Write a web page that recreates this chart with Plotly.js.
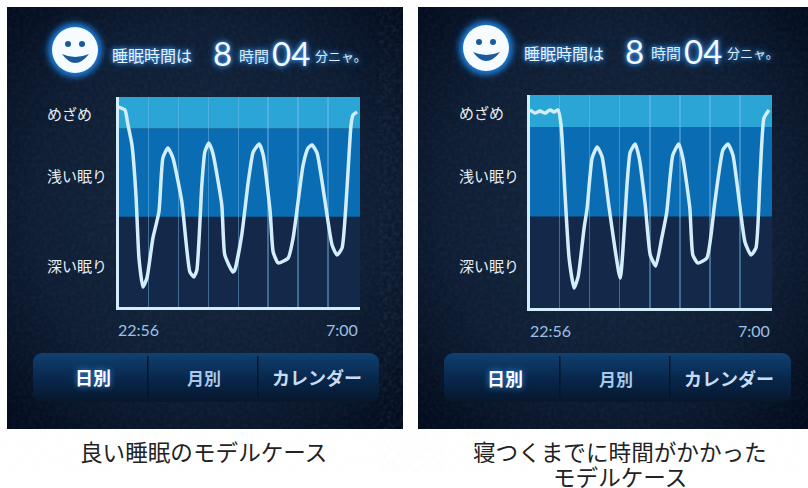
<!DOCTYPE html>
<html><head><meta charset="utf-8">
<script src="https://cdn.plot.ly/plotly-3.0.1.min.js"></script>
<style>html,body{margin:0;padding:0;background:#fff}#c{width:808px;height:488px}</style>
</head><body><div id="c"></div>
<script>
// minutes after bedtime (22:56) and sleep level (0-100)
var leftMinutes=[0,13,19,27,35,41,49,57,69,81,89,99,109,127,143,151,157,167,173,181,189,207,213,229,233,247,260,270,282,290,304,310,320,340,350,370,380,388,398,428,438,448,458,466,470,478];
var leftLevel=[95.2,93.8,86.7,77.1,53.3,23.3,9.5,13.8,32.9,45.2,71,75.7,71,50,16.7,14.3,17.6,58.1,73.8,78.1,73.3,48.6,24.8,16.7,17.6,34.3,59.5,73.8,77.6,72.4,45.2,26.2,21,23.3,32.9,67.6,75.7,77.1,73.3,29.5,24.8,28.1,56.7,86.7,91.4,92.9];
var rightMinutes=[1,11,21,31,41,49,57,63,71,79,89,97,109,115,125,135,145,159,181,195,201,211,219,231,241,252,264,274,286,298,306,320,326,336,354,370,386,396,406,430,442,452,460,468,478];
var rightLevel=[93,91.5,92.5,91.5,93,92,93,85.9,53.1,23.5,9.4,14.6,37.6,46.9,70.4,75.6,70.9,46.9,14.1,59.2,73.2,77,70.4,48.4,24.9,19.7,32.9,45.1,71.8,77,70.4,46.9,24.9,21.1,23.5,49.8,74.2,77,71.8,31,24.9,28.2,61,89.2,93];
var hourTicks=[60,120,180,240,300,360,420];
var bandEdges=[0,43,85,100];
var bandColors=['#14294a','#0a6cb2','#2aa5d6'];
var levelLabels=['めざめ','浅い眠り','深い眠り'];
var timeLabels=['22:56','7:00'];
var tabLabels=['日別','月別','カレンダー'];
var headerTexts=['睡眠時間は','8','時間','04','分ニャ。'];
var captionLeft=['良い睡眠のモデルケース'];
var captionRight=['寝つくまでに時間がかかった','モデルケース'];

var W=808,H=488;
var fx=function(x){return x/W;}, fy=function(y){return 1-y/H;};
var JP='"Noto Sans CJK JP","Noto Sans",sans-serif';
var glow='0 0 4px #4aa8ff, 0 0 8px #2a80e0';

function panelSvg(x,w,sx,tabX,barX,barW,dy){
  var cx=sx, cy=50+dy;
  return '<g><rect x="'+x+'" y="7" width="'+w+'" height="422" fill="url(#v)"/><rect x="'+x+'" y="7" width="'+w+'" height="422" filter="url(#n)" opacity="0.05"/></g>'
  +'<rect x="'+barX+'" y="353" width="'+barW+'" height="49" rx="9" fill="url(#b)"/>'
  +'<rect x="'+tabX[0]+'" y="356" width="1.5" height="42" fill="#05162c"/><rect x="'+tabX[1]+'" y="356" width="1.5" height="42" fill="#05162c"/>'
  +'<circle cx="'+cx+'" cy="'+cy+'" r="27" fill="#1c7fe0" filter="url(#g)"/>'
  +'<circle cx="'+cx+'" cy="'+cy+'" r="23" fill="#f6fbff"/>'
  +'<circle cx="'+(cx-7)+'" cy="'+(cy-6)+'" r="3" fill="#1a5a9c"/><circle cx="'+(cx+7)+'" cy="'+(cy-6)+'" r="3" fill="#1a5a9c"/>'
  +'<path d="M'+(cx-13)+' '+(cy+4)+' Q'+cx+' '+(cy+10)+' '+(cx+14)+' '+(cy+4)+' Q'+cx+' '+(cy+22)+' '+(cx-13)+' '+(cy+4)+'Z" fill="#1a5a9c"/>';
}
var svg='<svg xmlns="http://www.w3.org/2000/svg" width="808" height="488" viewBox="0 0 808 488"><defs>'
+'<radialGradient id="v" cx="0.5" cy="0.48" r="0.72"><stop offset="0" stop-color="#16283f"/><stop offset="0.6" stop-color="#0e1d33"/><stop offset="1" stop-color="#020a1c"/></radialGradient>'
+'<linearGradient id="b" x1="0" y1="0" x2="0" y2="1"><stop offset="0" stop-color="#0f4172"/><stop offset="0.55" stop-color="#08264a"/><stop offset="1" stop-color="#07172c"/></linearGradient>'
+'<filter id="g" x="-40%" y="-40%" width="180%" height="180%"><feGaussianBlur stdDeviation="3"/></filter>'
+'<filter id="n"><feTurbulence type="fractalNoise" baseFrequency="0.25" numOctaves="3"/><feColorMatrix values="0 0 0 0 0.6 0 0 0 0 0.7 0 0 0 0 0.9 0 0 0 1.4 -0.45"/></filter>'
+'</defs><rect width="808" height="488" fill="#fff"/>'
+panelSvg(7,396,75,[147,257],33,346,0)
+panelSvg(418,390,486,[559,669],444,347,-2)
+'</svg>';

var shapes=[];
[['x','y'],['x2','y2']].forEach(function(r){
  bandColors.forEach(function(c,i){
    shapes.push({type:'rect',xref:r[0]+' domain',yref:r[1],x0:0,x1:1,y0:bandEdges[i],y1:bandEdges[i+1],fillcolor:c,line:{width:0},layer:'below'});
  });
});

var annos=[];
function t(text,x,y,size,color,anchor,extra,box){
  var a={text:text,xref:'paper',yref:'paper',x:fx(x),y:fy(y),xanchor:anchor||'center',yanchor:'middle',showarrow:false,
    font:Object.assign({family:JP,size:size,color:color||'#eef6ff'},extra||{})};
  if(box){a.height=box;a.borderpad=0;}
  annos.push(a);
}
function panelText(dx,dy,barCenters,labelY,timeY,timeR,timeL,tabY){
  t(headerTexts[0],110+dx,55+dy,16,'#e8f2fb','left',{shadow:glow});
  t(headerTexts[1],222+dx,53+dy,33,'#f4faff','center',{family:'Lato,Roboto,sans-serif',shadow:glow});
  t(headerTexts[2],237+dx,55+dy,15,'#dcebf8','left',{shadow:glow});
  t(headerTexts[3],291+dx,53+dy,33,'#f4faff','center',{family:'Lato,Roboto,sans-serif',shadow:glow});
  t(headerTexts[4],313+dx,55+dy,13,'#dcebf8','left',{shadow:glow});
  levelLabels.forEach(function(s,i){t(s,45+dx,labelY[i],15,'#e6eff8','left');});
  t(timeLabels[0],timeL,timeY,16,'#9cc0e6','left',{family:'Lato,Roboto,sans-serif'});
  t(timeLabels[1],timeR,timeY,16,'#9cc0e6','right',{family:'Lato,Roboto,sans-serif'});
  t(tabLabels[0],barCenters[0],tabY,18,'#ffffff','center',{weight:700,shadow:'0 0 6px #3f9cff'});
  t(tabLabels[1],barCenters[1],tabY,17,'#a9c8ea','center',{weight:700});
  t(tabLabels[2],barCenters[2],tabY,18,'#c6dcf2','center',{weight:700});
}
panelText(0,0,[93,204,317],[114,176,265],329,360,116,377);
panelText(412,-2,[505,616,729],[112,175,265],330,772,528,378);
captionLeft.forEach(function(s){t(s,203,451,22.6,'#222222');});
captionRight.forEach(function(s,i){t(s,620,451+25*i,22.6,'#222222','center',{},24);});

function trace(xs,ys,xa,ya){return {x:xs,y:ys,xaxis:xa,yaxis:ya,type:'scatter',mode:'lines',
  line:{color:'#d3eefb',width:3.5,shape:'spline',smoothing:0.5},hoverinfo:'skip',showlegend:false};}
function xax(d,anchor){return {domain:d,anchor:anchor,range:[0,484],tickmode:'array',tickvals:hourTicks,showticklabels:false,ticks:'',
  showgrid:true,gridcolor:'rgba(120,190,240,0.45)',gridwidth:1.5,zeroline:false,showline:true,linecolor:'#d3eefb',linewidth:3,fixedrange:true};}
function yax(d,anchor){return {domain:d,anchor:anchor,range:[0,100],showticklabels:false,ticks:'',showgrid:false,zeroline:false,showline:true,linecolor:'#d3eefb',linewidth:3,fixedrange:true};}

var layout={width:W,height:H,autosize:false,margin:{l:0,r:0,t:0,b:0},paper_bgcolor:'rgba(0,0,0,0)',plot_bgcolor:'rgba(0,0,0,0)',showlegend:false,
  xaxis:xax([fx(118.5),fx(360)],'y'),yaxis:yax([fy(307),fy(97)],'x'),
  xaxis2:xax([fx(529.5),fx(772)],'y2'),yaxis2:yax([fy(308),fy(95)],'x2'),
  shapes:shapes,annotations:annos,
  images:[{source:'data:image/svg+xml,'+encodeURIComponent(svg),xref:'paper',yref:'paper',x:0,y:1,sizex:1,sizey:1,xanchor:'left',yanchor:'top',sizing:'stretch',layer:'below'}]};
Plotly.newPlot('c',[trace(leftMinutes,leftLevel,'x','y'),trace(rightMinutes,rightLevel,'x2','y2')],layout,{displayModeBar:false,staticPlot:true});
</script></body></html>
